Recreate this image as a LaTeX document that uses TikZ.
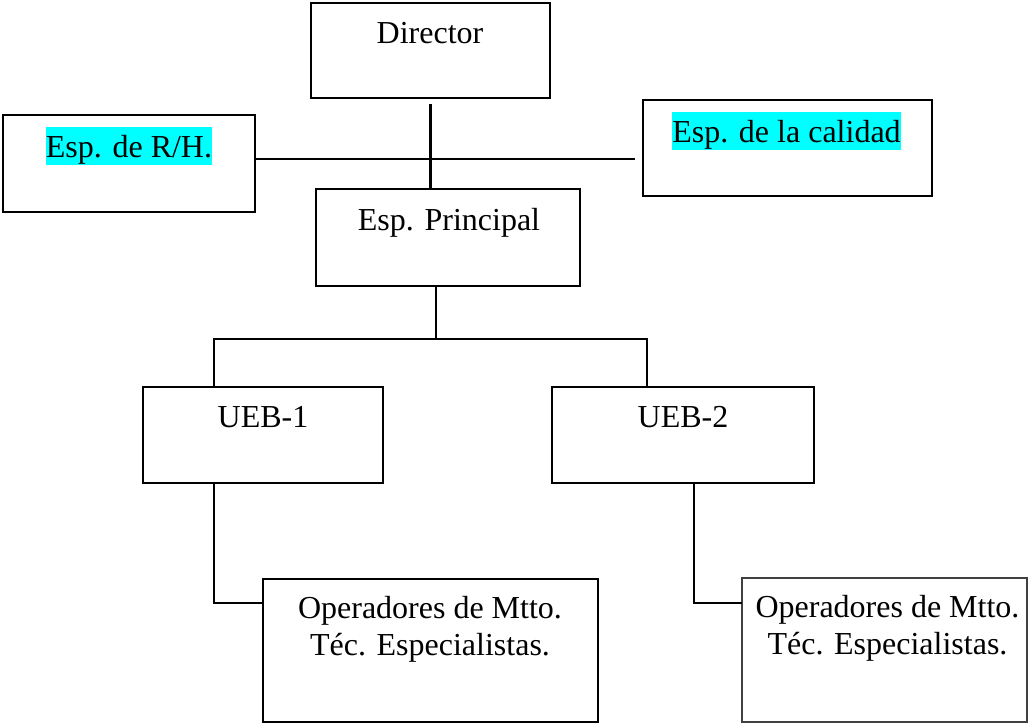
\documentclass[tikz,border=0pt]{standalone}
\usepackage{fontspec}
\setmainfont{Liberation Serif}
\definecolor{hlcyan}{RGB}{0,255,255}
\newcommand{\cyanmark}[1]{{\setlength{\fboxsep}{0pt}\colorbox{hlcyan}{\rule[-8pt]{0pt}{38pt}#1}}}
\tikzset{
  box/.style={draw=black, line width=1.8pt, rectangle, inner sep=0pt, outer sep=0pt},
  thinbox/.style={draw=black!75, line width=1.2pt, rectangle, inner sep=0pt, outer sep=0pt},
  conn/.style={draw=black, line width=2.2pt},
  txt/.style={inner sep=0pt, outer sep=0pt, anchor=base, align=center, font=\fontsize{32}{37}\selectfont},
}
\begin{document}
\begin{tikzpicture}[x=1pt,y=-1pt]
\useasboundingbox (0,0) rectangle (1029,724);
% boxes
\node[box, minimum width=239pt, minimum height=95pt] (dir) at (430.5,50.5) {};
\node[box, minimum width=252pt, minimum height=97pt] (rh) at (129,163.5) {};
\node[box, minimum width=289pt, minimum height=96pt] (cal) at (787.5,148) {};
\node[box, minimum width=264pt, minimum height=97pt] (pri) at (448,237.5) {};
\node[box, minimum width=240pt, minimum height=96pt] (u1) at (263,435) {};
\node[box, minimum width=262pt, minimum height=96pt] (u2) at (683,435) {};
\node[box, minimum width=335pt, minimum height=143pt] (op1) at (430.5,650.5) {};
\node[thinbox, minimum width=285pt, minimum height=144pt] (op2) at (884.5,650) {};
% texts
\node[txt] (dirT) at (430,43) {Director};
\node[txt] (rhT) at (129,157) {\cyanmark{Esp. de R/H.}};
\node[txt] (calT) at (786.5,142) {\cyanmark{Esp. de la calidad}};
\node[txt] (priT) at (449,230) {Esp. Principal};
\node[txt] (u1T) at (263,427) {UEB-1};
\node[txt] (u2T) at (683,427) {UEB-2};
\node[txt] (op1T) at (430,655) {Operadores de Mtto.\\Téc. Especialistas.};
\node[txt] (op2T) at (887.5,654) {Operadores de Mtto.\\Téc. Especialistas.};
% connectors
\coordinate (hl) at (0,159);
\coordinate (b) at (436,339);
\coordinate (L) at (214,339);
\coordinate (R) at (647,339);
\coordinate (c1) at (214,603);
\coordinate (c2) at (694,603);
\draw[conn] ([yshift=-6pt]dir.south) -- (dir.south |- pri.north);
\draw[conn] (rh.east |- hl) -- ([xshift=-8pt]cal.west |- hl);
\draw[conn] (pri.south -| b) -- (b);
\draw[conn] (u1.north -| L) -- (L) -- (R) -- (u2.north -| R);
\draw[conn] (u1.south -| c1) -- (c1) -- (op1.west |- c1);
\draw[conn] (u2.south -| c2) -- (c2) -- (op2.west |- c2);
\end{tikzpicture}
\end{document}
